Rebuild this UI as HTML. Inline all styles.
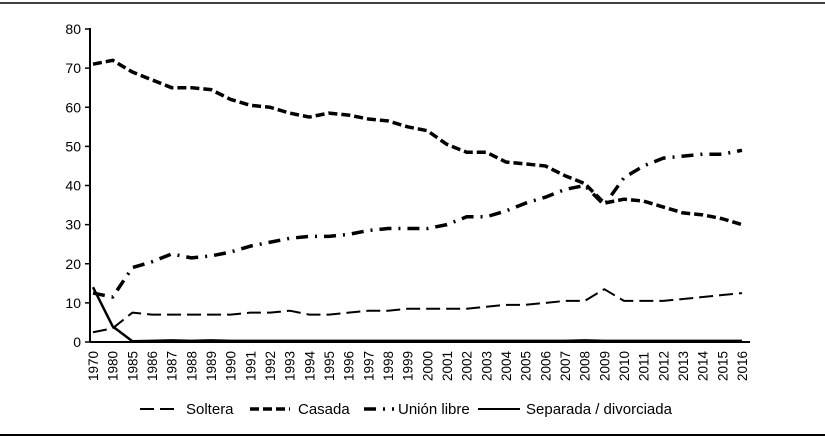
<!DOCTYPE html>
<html><head><meta charset="utf-8"><style>
body{margin:0;background:#fff;width:825px;height:442px;overflow:hidden}
svg{font-family:"Liberation Sans",sans-serif}
</style></head><body>
<svg id="chart" width="825" height="442" xmlns="http://www.w3.org/2000/svg">
<line x1="0" y1="3" x2="825" y2="3" stroke="#000" stroke-width="1.5"/>
<line x1="0" y1="435" x2="825" y2="435" stroke="#000" stroke-width="2"/>
<g id="axes"></g><g id="series"></g>
<g font-size="15">
<g><line x1="140" y1="409" x2="180" y2="409" stroke="#000" stroke-width="2" stroke-dasharray="14,6"/><text x="186" y="414">Soltera</text></g>
<g><line x1="250" y1="409" x2="290" y2="409" stroke="#000" stroke-width="3.5" stroke-dasharray="9,4"/><text x="298" y="414">Casada</text></g>
<g><line x1="364" y1="409" x2="394" y2="409" stroke="#000" stroke-width="3.5" stroke-dasharray="12,7,2,7"/><text x="398" y="414">Unión libre</text></g>
<g><line x1="478" y1="409" x2="520" y2="409" stroke="#000" stroke-width="2"/><text x="526" y="414">Separada / divorciada</text></g>
</g>
</svg>
<script>
const years=["1970","1980","1985","1986","1987","1988","1989","1990","1991","1992","1993","1994","1995","1996","1997","1998","1999","2000","2001","2002","2003","2004","2005","2006","2007","2008","2009","2010","2011","2012","2013","2014","2015","2016"];
const soltera=[2.5,3.5,7.5,7,7,7,7,7,7.5,7.5,8,7,7,7.5,8,8,8.5,8.5,8.5,8.5,9,9.5,9.5,10,10.5,10.5,13.5,10.5,10.5,10.5,11,11.5,12,12.5];
const casada=[71,72,69,67,65,65,64.5,62,60.5,60,58.5,57.5,58.5,58,57,56.5,55,54,50.5,48.5,48.5,46,45.5,45,42.5,40.5,35.5,36.5,36,34.5,33,32.5,31.5,30];
const unionLibre=[12.5,11.5,19,20.5,22.5,21.5,22,23,24.5,25.5,26.5,27,27,27.5,28.5,29,29,29,30,32,32,33.5,35.5,37,39,40,35,42,45,47,47.5,48,48,49];
const separada=[14,4,0.2,0.3,0.4,0.3,0.4,0.3,0.3,0.3,0.3,0.3,0.3,0.3,0.3,0.3,0.3,0.3,0.3,0.3,0.3,0.3,0.3,0.3,0.3,0.4,0.3,0.3,0.3,0.3,0.3,0.3,0.3,0.3];
const yTicks=[0,10,20,30,40,50,60,70,80];
const NS="http://www.w3.org/2000/svg";
const x0=93,x1=742,yB=342,yT=29,yMax=80;
const xs=i=>x0+i*(x1-x0)/(years.length-1);
const ys=v=>yB-v/yMax*(yB-yT);
function mk(t,a,p){const e=document.createElementNS(NS,t);for(const k in a)e.setAttribute(k,a[k]);p.appendChild(e);return e;}
const ax=document.getElementById('axes');
const ya=mk('line',{x1:90,y1:yT-1,x2:90,y2:yB,stroke:'#000','stroke-width':2},ax);


const xa=mk('line',{x1:90,y1:yB,x2:750,y2:yB,stroke:'#000','stroke-width':2},ax);


yTicks.forEach(v=>{
 mk('line',{x1:85,y1:ys(v),x2:90,y2:ys(v),stroke:'#000','stroke-width':1.5},ax);
 const t=mk('text',{x:81,y:ys(v)+5,'text-anchor':'end','font-size':14},ax);t.textContent=v;
 
 
});
years.forEach((y,i)=>{
 const t=mk('text',{transform:`translate(${xs(i)+5},381) rotate(-90)`,'font-size':13.5},ax);t.textContent=y;
 
 
});
const sg=document.getElementById('series');
function line(d,dash,w,name){
 const p=mk('polyline',{points:d.map((v,i)=>xs(i)+','+ys(v)).join(' '),fill:'none',stroke:'#000','stroke-width':w,'stroke-dasharray':dash,'stroke-linejoin':'round'},sg);
 
 
}
line(separada,'none',2.5,'line-separada');
line(soltera,'14,6',2,'line-soltera');
line(casada,'9,4',3.5,'line-casada');
line(unionLibre,'12,7,2,7',3.5,'line-union-libre');
</script>
</body></html>
